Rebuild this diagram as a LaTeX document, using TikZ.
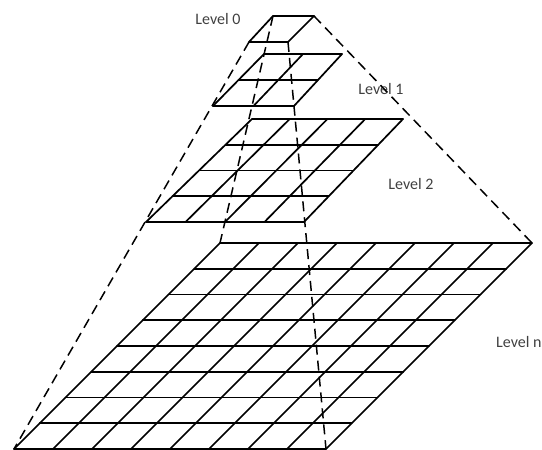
\documentclass[tikz,border=0pt]{standalone}
\usepackage{fontspec}
\setmainfont{Carlito}
\usetikzlibrary{calc}
\newcommand\drawlevel[6]{% #1 name, #2 TL, #3 TR, #4 BL, #5 BR, #6 cells
  \coordinate (#1tl) at #2;
  \coordinate (#1tr) at #3;
  \coordinate (#1bl) at #4;
  \coordinate (#1br) at #5;
  \foreach \i in {0,...,#6} {
    \draw[gridline] ($(#1tl)!\i/#6!(#1bl)$) -- ($(#1tr)!\i/#6!(#1br)$);
    \draw[gridline] ($(#1tl)!\i/#6!(#1tr)$) -- ($(#1bl)!\i/#6!(#1br)$);
  }%
}
\begin{document}
\begin{tikzpicture}[x=1pt,y=-1pt,
  gridline/.style={line width=1.7pt, line cap=round, black},
  pyr/.style={line width=1.5pt, dash pattern=on 10pt off 6pt, black},
  lbl/.style={font=\fontsize{16}{18}\selectfont, text=black!75, inner sep=0pt}]
\useasboundingbox (0,0) rectangle (542,450);
% levels
\drawlevel{a}{(273,16)}{(314,16)}{(249,42)}{(288,42)}{1}
\drawlevel{b}{(264,54)}{(342,54)}{(213,106)}{(294,106)}{2}
\drawlevel{c}{(252,119)}{(403,119)}{(146,222)}{(304,222)}{4}
\drawlevel{n}{(220,243)}{(532,243)}{(14,449)}{(326,449)}{8}
% labels
\node[lbl] (lab0) at (218,19) {Level 0};
\node[lbl] (lab1) at (381,89) {Level 1};
\node[lbl] (lab2) at (411,184) {Level 2};
\node[lbl,anchor=west] (labn) at (496,342) {Level n};
% pyramid edges
\draw[pyr] (abl) -- (nbl);
\draw[pyr] (atr) -- (ntr);
\draw[pyr] (atl) -- (ntl);
\draw[pyr] (abr) -- (nbr);
\end{tikzpicture}
\end{document}
